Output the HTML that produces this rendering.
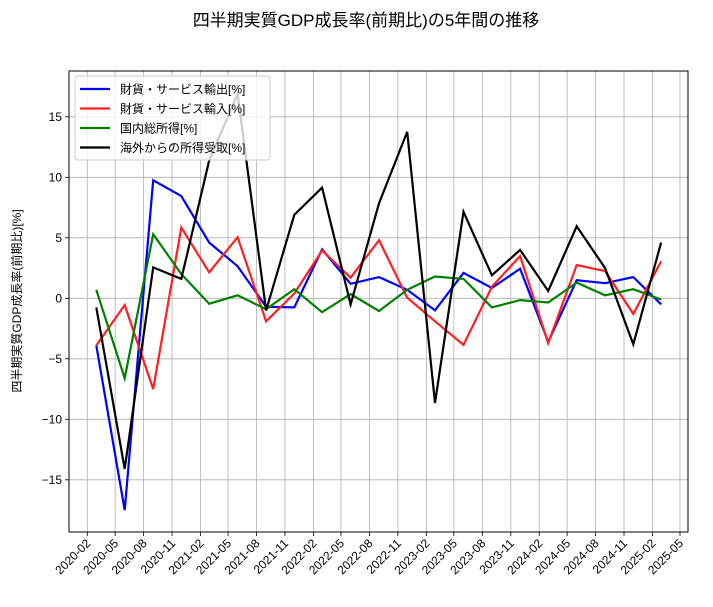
<!DOCTYPE html>
<html><head><meta charset="utf-8"><style>
body{margin:0;background:#fff;}
svg text{font-family:"Liberation Sans","Noto Sans CJK JP",sans-serif;}
</style></head><body>
<svg id="chart" width="713" height="602" xmlns="http://www.w3.org/2000/svg">
<text x="366" y="26" text-anchor="middle" font-size="17" fill="#000">四半期実質GDP成長率(前期比)の5年間の推移</text>
<text transform="translate(21,301) rotate(-90)" text-anchor="middle" font-size="12" fill="#000">四半期実質GDP成長率(前期比)[%]</text>
<g id="grid"></g><g id="axes"></g><g id="series"></g><g id="legend"></g>
</svg>
<script>
const dates=["2020-03","2020-06","2020-09","2020-12","2021-03","2021-06","2021-09","2021-12","2022-03","2022-06","2022-09","2022-12","2023-03","2023-06","2023-09","2023-12","2024-03","2024-06","2024-09","2024-12","2025-03"];
const exportsVals=[-3.9,-17.5,9.75,8.45,4.6,2.65,-0.7,-0.75,4.05,1.2,1.75,0.7,-1.0,2.1,0.85,2.45,-3.6,1.5,1.25,1.75,-0.5];
const importsVals=[-3.9,-0.55,-7.5,5.85,2.15,5.05,-1.9,0.4,3.95,1.7,4.8,0.05,-1.9,-3.85,0.95,3.5,-3.7,2.75,2.25,-1.3,3.05];
const gdiVals=[0.7,-6.6,5.3,2.0,-0.45,0.25,-0.9,0.75,-1.15,0.35,-1.05,0.7,1.8,1.6,-0.75,-0.15,-0.35,1.3,0.25,0.75,-0.1];
const incomeVals=[-0.75,-14.1,2.55,1.6,11.4,16.9,-1.0,6.9,9.15,-0.5,7.85,13.75,-8.65,7.15,1.9,4.0,0.6,5.95,2.5,-3.8,4.6];
const xTicks=["2020-02","2020-05","2020-08","2020-11","2021-02","2021-05","2021-08","2021-11","2022-02","2022-05","2022-08","2022-11","2023-02","2023-05","2023-08","2023-11","2024-02","2024-05","2024-08","2024-11","2025-02","2025-05"];
const yTicks=[-15,-10,-5,0,5,10,15];
const seriesNames=["財貨・サービス輸出[%]","財貨・サービス輸入[%]","国内総所得[%]","海外からの所得受取[%]"];
const seriesColors=["#0000ff","#ff2020","#008000","#000000"];

const L=69,R=688,T=71,B=532;
const NS="http://www.w3.org/2000/svg";
function day(s){const p=s.split("-");return Date.UTC(+p[0],+p[1]-1,1)/86400000;}
const d0=day("2020-02"),d1=day("2025-05");
function x(s){return 87.3+(day(s)-d0)*(680-87.3)/(d1-d0);}
function y(v){return 298.3-v*12.1;}
function mk(tag,attrs,parent){const e=document.createElementNS(NS,tag);for(const k in attrs)e.setAttribute(k,attrs[k]);parent.appendChild(e);return e;}
const grid=document.getElementById("grid"),axes=document.getElementById("axes"),ser=document.getElementById("series"),leg=document.getElementById("legend");
xTicks.forEach(t=>{const xx=x(t);
 const g=mk("line",{x1:xx,x2:xx,y1:T,y2:B,stroke:"#b0b0b0","stroke-width":0.8},grid);
 
 
 const tk=mk("line",{x1:xx,x2:xx,y1:B,y2:B+4,stroke:"#000","stroke-width":0.8},axes);
 
 
 const tx=mk("text",{transform:`translate(${xx+4},${B+12}) rotate(-45)`,"text-anchor":"end","font-size":12,fill:"#000"},axes);
 tx.textContent=t;
 
 
});
yTicks.forEach(v=>{const yy=y(v);
 const g=mk("line",{x1:L,x2:R,y1:yy,y2:yy,stroke:"#b0b0b0","stroke-width":0.8},grid);
 
 
 const tk=mk("line",{x1:L-4,x2:L,y1:yy,y2:yy,stroke:"#000","stroke-width":0.8},axes);
 
 
 const tx=mk("text",{x:L-7,y:yy+4,"text-anchor":"end","font-size":12,fill:"#000"},axes);
 tx.textContent=(v<0?"−":"")+Math.abs(v);
 
 
});
const frame=mk("rect",{x:L,y:T,width:R-L,height:B-T,fill:"none",stroke:"#000","stroke-width":1},axes);


const allVals=[exportsVals,importsVals,gdiVals,incomeVals];
const snames=["exports-line","imports-line","gdi-line","income-line"];
allVals.forEach((vals,i)=>{
 const pts=vals.map((v,j)=>x(dates[j]).toFixed(1)+","+y(v).toFixed(1)).join(" ");
 const pl=mk("polyline",{points:pts,fill:"none",stroke:seriesColors[i],"stroke-width":2.2,"stroke-linejoin":"miter"},ser);
 
 
});
const lb=mk("rect",{x:75,y:76,width:195,height:84,rx:3,fill:"#fff","fill-opacity":0.8,stroke:"#ccc","stroke-width":1},leg);


seriesNames.forEach((n,i)=>{const yy=89+i*19.5;
 const g=mk("g",{},leg);
 
 
 mk("line",{x1:80,x2:110,y1:yy,y2:yy,stroke:seriesColors[i],"stroke-width":2.2},g);
 const t=mk("text",{x:120,y:yy+4.5,"font-size":12,fill:"#000"},g);
 t.textContent=n;
});
</script>
</body></html>
